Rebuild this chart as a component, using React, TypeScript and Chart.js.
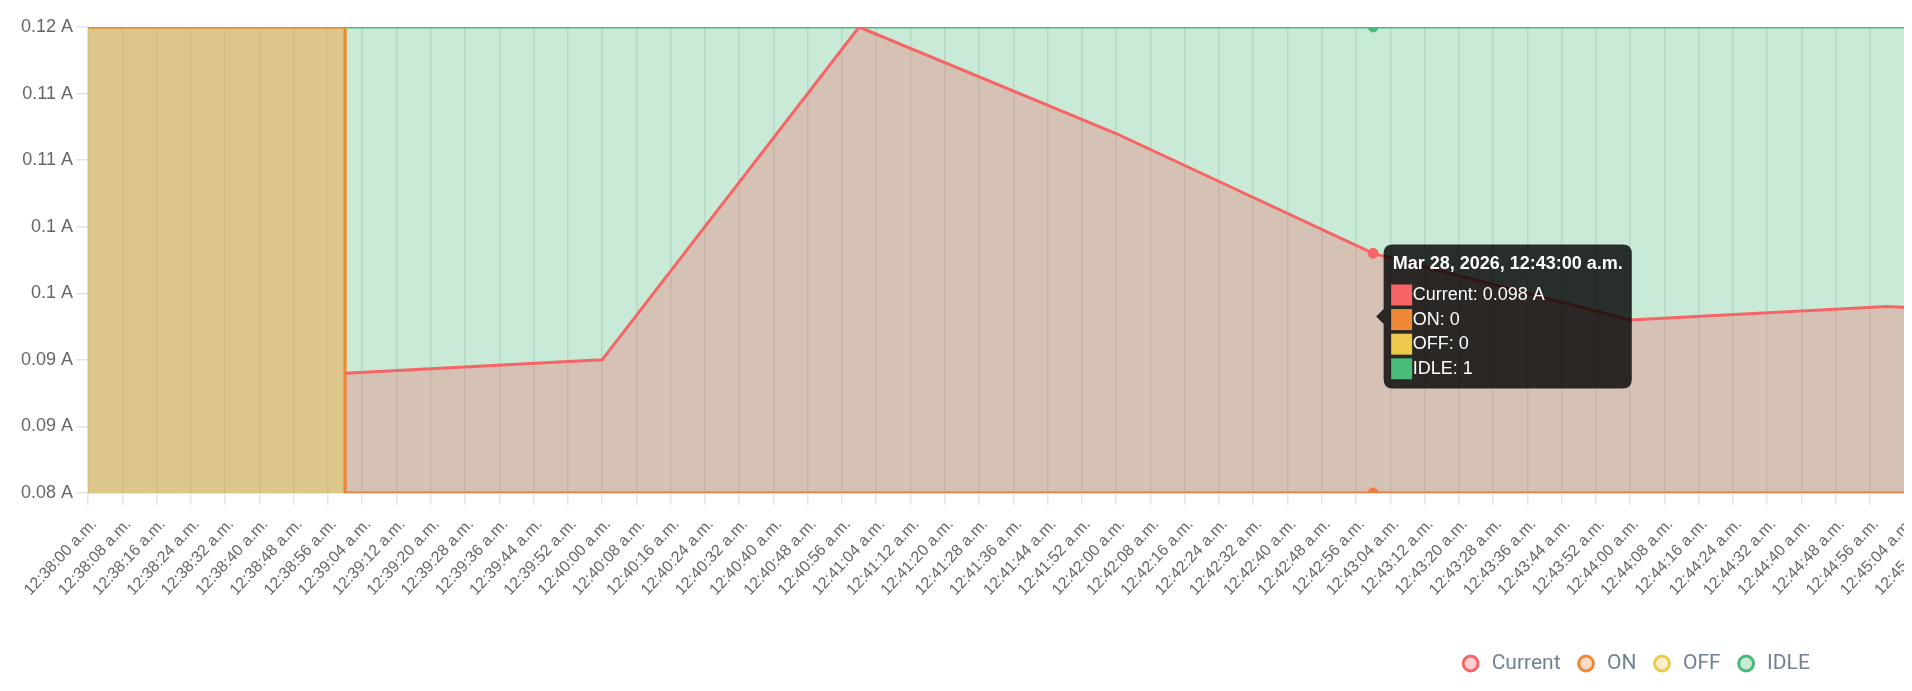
import { useEffect, useRef } from "react"
import { Chart, registerables } from "chart.js"

Chart.register(...registerables)

// readings, one per minute (times are 24h clock, shown as 12h)
const times = ["00:38:00", "00:39:00", "00:40:00", "00:41:00", "00:42:00", "00:43:00", "00:44:00", "00:45:00", "00:46:00"]
const current = [null, 0.089, 0.09, 0.115, 0.107, 0.098, 0.093, 0.094, 0.093]
const onState = [1, 0, 0, 0, 0, 0, 0, 0, 0]
const offState = [1, 0, 0, 0, 0, 0, 0, 0, 0]
const idleState = [1, 1, 1, 1, 1, 1, 1, 1, 1]

const dateLabel = "Mar 28, 2026"
const axisStart = "00:38:00"
const axisEnd = "00:50:13"
const tickStepSeconds = 8
const yMin = 0.08
const yMax = 0.115
const yStep = 0.005
const activeIndex = 5

const RED = "#f56565"
const ORANGE = "#ed8936"
const YELLOW = "#ecc94b"
const GREEN = "#48bb78"

const toSec = (t: string) => {
  const [h, m, s] = t.split(":").map(Number)
  return h * 3600 + m * 60 + s
}

const pad = (n: number) => String(n).padStart(2, "0")

const clock = (sec: number) => {
  const h = Math.floor(sec / 3600)
  const m = Math.floor((sec % 3600) / 60)
  const s = Math.round(sec % 60)
  const h12 = h % 12 === 0 ? 12 : h % 12
  return `${h12}:${pad(m)}:${pad(s)} ${h < 12 ? "a.m." : "p.m."}`
}

const alpha = (hex: string, a: number) => {
  const n = parseInt(hex.slice(1), 16)
  return `rgba(${(n >> 16) & 255}, ${(n >> 8) & 255}, ${n & 255}, ${a})`
}

const series = (values: (number | null)[]) => times.map((t, i) => ({ x: toSec(t), y: values[i] }))

function lineStyle(color: string) {
  return {
    borderColor: color,
    backgroundColor: alpha(color, 0.3),
    borderWidth: 3,
    pointRadius: 0,
    pointHoverRadius: 5,
    pointBorderWidth: 3,
    pointHoverBorderWidth: 1,
    pointBackgroundColor: alpha(color, 0.3),
    pointBorderColor: color,
    pointHoverBackgroundColor: color,
    pointHoverBorderColor: color,
  }
}

function stateDataset(label: string, values: number[], color: string) {
  return {
    label,
    data: series(values),
    yAxisID: "y1",
    stepped: true,
    fill: "origin",
    ...lineStyle(color),
  }
}

export default function App() {
  const chartRef = useRef<HTMLCanvasElement>(null)
  const chartInstance = useRef<Chart | null>(null)

  useEffect(() => {
    if (!chartRef.current) return
    if (chartInstance.current) chartInstance.current.destroy()

    const ctx = chartRef.current.getContext("2d")
    if (!ctx) return

    const colors = [RED, ORANGE, YELLOW, GREEN]

    chartInstance.current = new Chart(ctx, {
      type: "line",
      data: {
        datasets: [
          {
            label: "Current",
            data: series(current),
            yAxisID: "y",
            fill: "start",
            ...lineStyle(RED),
          },
          stateDataset("ON", onState, ORANGE),
          stateDataset("OFF", offState, YELLOW),
          stateDataset("IDLE", idleState, GREEN),
        ] as any,
      },
      options: {
        animation: false,
        responsive: true,
        maintainAspectRatio: false,
        layout: { padding: { top: 19, left: 10, right: 0, bottom: 0 } },
        interaction: { mode: "index", intersect: false },
        scales: {
          x: {
            type: "linear",
            min: toSec(axisStart),
            max: toSec(axisEnd),
            afterFit: (scale: any) => {
              scale.height = 145
            },
            ticks: {
              stepSize: tickStepSeconds,
              autoSkip: false,
              minRotation: 47,
              maxRotation: 47,
              padding: 10,
              labelOffset: 6,
              color: "#666",
              font: { size: 16 },
              callback: (v: any) => clock(Number(v)),
            },
            grid: { color: "rgba(0, 0, 0, 0.1)", lineWidth: 1.5, tickLength: 12 },
          },
          y: {
            min: yMin,
            max: yMax,
            ticks: {
              stepSize: yStep,
              color: "#666",
              font: { size: 18 },
              callback: (v: any) => `${Number((Number(v) + 1e-9).toFixed(2))} A`,
            },
            grid: { drawOnChartArea: false, color: "rgba(0, 0, 0, 0.1)", lineWidth: 1.5, tickLength: 12 },
          },
          y1: { display: false, min: 0, max: 1 },
        },
        plugins: {
          legend: {
            position: "bottom",
            labels: {
              usePointStyle: true,
              pointStyle: "circle",
              boxHeight: 10.5,
              padding: 15,
              color: "#718096",
              font: { family: "Roboto", size: 21 },
            },
          },
          tooltip: {
            backgroundColor: "rgba(0, 0, 0, 0.8)",
            titleFont: { size: 18, weight: "bold" },
            bodyFont: { size: 18 },
            padding: 9,
            caretSize: 7.5,
            caretPadding: 3,
            cornerRadius: 9,
            bodySpacing: 3,
            titleMarginBottom: 9,
            callbacks: {
              title: (items: any[]) => `${dateLabel}, ${clock(items[0].parsed.x)}`,
              label: (item: any) =>
                item.datasetIndex === 0
                  ? `${item.dataset.label}: ${item.parsed.y} A`
                  : `${item.dataset.label}: ${item.parsed.y}`,
              labelColor: (item: any) => ({
                borderColor: colors[item.datasetIndex],
                backgroundColor: colors[item.datasetIndex],
                borderWidth: 3,
              }),
            },
          },
        },
      } as any,
    })

    // show the hovered state at 12:43:00
    const chart = chartInstance.current
    const active = colors.map((_, i) => ({ datasetIndex: i, index: activeIndex }))
    chart.setActiveElements(active)
    chart.tooltip?.setActiveElements(active, { x: 0, y: 0 })
    chart.update()

    return () => {
      if (chartInstance.current) {
        chartInstance.current.destroy()
        chartInstance.current = null
      }
    }
  }, [])

  return (
    <div style={{ position: "relative", width: 3244, height: 676 }}>
      <canvas ref={chartRef} />
    </div>
  )
}
